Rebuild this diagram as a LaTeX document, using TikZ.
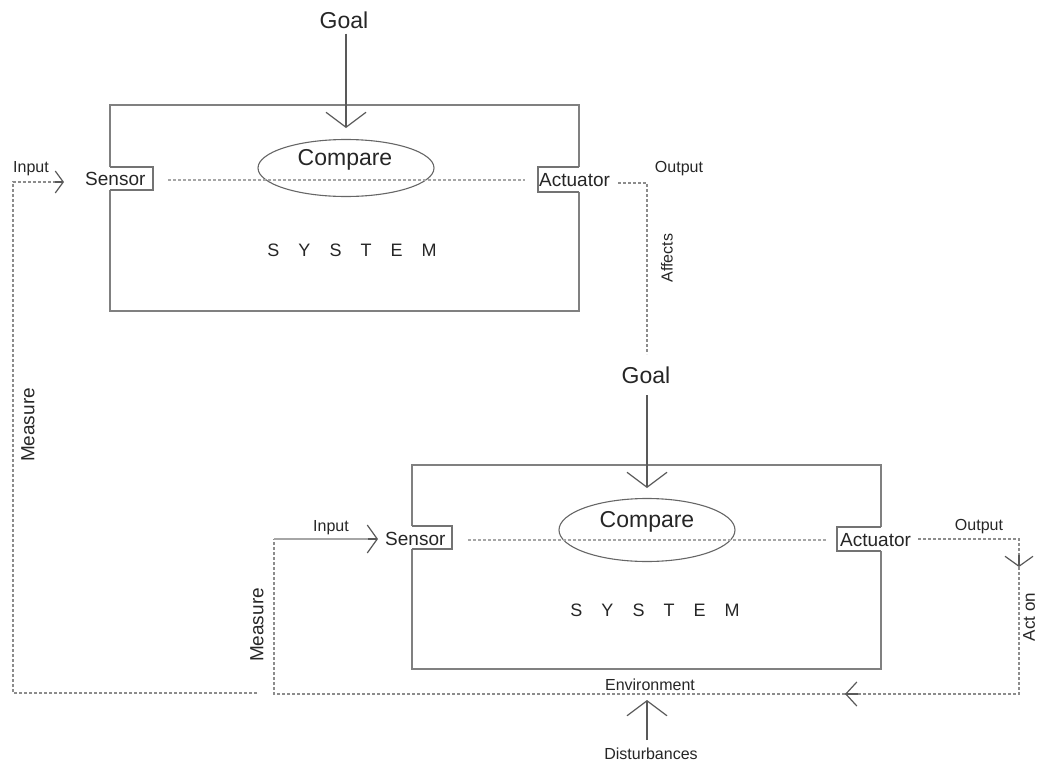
\documentclass[tikz,border=0pt]{standalone}
\usepackage{fontspec}
\setmainfont{Liberation Sans}
\usetikzlibrary{arrows.meta,shapes.geometric}
\newcommand{\fsz}[1]{\fontsize{#1}{#1}\selectfont}
\begin{document}
\begin{tikzpicture}[x=1pt,y=-1pt,
  boxline/.style={draw=black!50, line width=1.6pt},
  thinbox/.style={draw=black!55, line width=1.2pt},
  dashline/.style={draw=black!45, line width=1.3pt, dash pattern=on 3pt off 2pt},
  solidgrey/.style={draw=black!35, line width=1.3pt},
  bigbarb/.style={-{Straight Barb[length=15pt,width=40pt,line width=1.2pt]}},
  smallbarb/.style={-{Straight Barb[length=10pt,width=28pt,line width=1.2pt]}},
  tinybarb/.style={-{Straight Barb[length=8pt,width=22pt,line width=1.2pt]}},
  arrowline/.style={draw=black!65, line width=1.2pt},
  txt/.style={inner sep=0pt, text=black!85},
  bigtxt/.style={txt, font=\fsz{23}},
  midtxt/.style={txt, font=\fsz{19}},
  smalltxt/.style={txt, font=\fsz{16}},
  systxt/.style={txt, font=\fsz{18}},
  cmpell/.style={ellipse, draw=black!60, line width=1.1pt, inner sep=0pt}
]
\useasboundingbox (0,0) rectangle (1037,766);

% ================= TOP SYSTEM =================
\draw[boxline] (110,190) -- (110,311) -- (579,311) -- (579,192);
\draw[boxline] (579,167) -- (579,105) -- (110,105) -- (110,167);
\draw[thinbox] (110,167) -- (153,167) -- (153,190) -- (110,190);
\draw[thinbox] (579,167) -- (538,167) -- (538,192) -- (579,192);

\node[cmpell, minimum width=176pt, minimum height=57pt] (cmp1) at (346,168) {};
\node[bigtxt] (cmp1t) at (345,160) {Compare};
\node[midtxt, anchor=west] (sen1) at (85,179) {Sensor};
\node[midtxt, anchor=west] (act1) at (539,180) {Actuator};
\node[systxt] (sys1) at (352,250) {S\hspace{19pt}Y\hspace{19pt}S\hspace{19pt}T\hspace{19pt}E\hspace{19pt}M};

\node[bigtxt] (goal1) at (344,20) {Goal};
\coordinate (g1tip) at (346,128);
\draw[arrowline, bigbarb] (goal1.south -| g1tip) ++(0,5) -- (g1tip);

\coordinate (d1a) at (168,180);
\coordinate (d1b) at (525,180);
\draw[dashline, draw=black!35] (d1a) -- (d1b);

% Input / Output top
\node[smalltxt] (in1) at (31,169) {Input};
\node[smalltxt] (out1) at (679,169) {Output};
\node[smalltxt, rotate=90] (aff) at (667,258) {Affects};
\node[midtxt, rotate=90] (meas1) at (28,425) {Measure};

\coordinate (in1tip) at (64,182);
\coordinate (m1tl) at (13,182);
\coordinate (m1bl) at (13,693);
\coordinate (m1br) at (257,693);
\draw[dashline] (m1br) -- (m1bl) -- (m1tl) -- (56,182);
\draw[arrowline, tinybarb] (55,182) -- (in1tip);

\coordinate (o1a) at (618,183);
\coordinate (o1c) at (647,183);
\coordinate (o1b) at (647,354);
\draw[dashline] (o1a) -- (o1c) -- (o1b);

% ================= BOTTOM SYSTEM =================
\draw[boxline] (412,549) -- (412,669) -- (881,669) -- (881,551);
\draw[boxline] (881,527) -- (881,465) -- (412,465) -- (412,526);
\draw[thinbox] (412,526) -- (452,526) -- (452,549) -- (412,549);
\draw[thinbox] (881,527) -- (837,527) -- (837,551) -- (881,551);

\node[cmpell, minimum width=176pt, minimum height=63pt] (cmp2) at (647,530) {};
\node[bigtxt] (cmp2t) at (647,522) {Compare};
\node[midtxt, anchor=west] (sen2) at (385,539) {Sensor};
\node[midtxt, anchor=west] (act2) at (840,540) {Actuator};
\node[systxt] (sys2) at (655,610) {S\hspace{19pt}Y\hspace{19pt}S\hspace{19pt}T\hspace{19pt}E\hspace{19pt}M};

\node[bigtxt] (goal2) at (646,375) {Goal};
\coordinate (g2tip) at (647,488);
\draw[arrowline, bigbarb] (647,395) -- (g2tip);

\coordinate (d2a) at (468,540);
\coordinate (d2b) at (826,540);
\draw[dashline, draw=black!35] (d2a) -- (d2b);

\node[smalltxt] (in2) at (331,528) {Input};
\node[smalltxt] (out2) at (979,527) {Output};
\node[txt, font=\fsz{17}, rotate=90] (acton) at (1029,617) {Act on};
\node[midtxt, rotate=90] (meas2) at (257,625) {Measure};
\node[smalltxt] (env) at (650,685) {Environment};
\node[smalltxt] (dist) at (651,754) {Disturbances};

% output -> act on -> environment loop
\coordinate (o2a) at (918,539);
\coordinate (o2c) at (1019,539);
\coordinate (o2tip) at (1019,567);
\coordinate (ebr) at (1019,694);
\coordinate (etip) at (845,694);
\coordinate (ebl) at (274,694);
\coordinate (i2c) at (274,539);
\coordinate (in2tip) at (378,539);
\draw[dashline] (o2a) -- (o2c) -- (o2tip);
\draw[arrowline, smallbarb] (1019,555) -- (o2tip);
\draw[dashline] (o2tip) -- (ebr) -- (etip);
\draw[arrowline, -{Straight Barb[length=11pt,width=24pt,line width=1.2pt]}] (858,694) -- (etip);
\draw[dashline] (etip) -- (ebl) -- (i2c);
\draw[solidgrey] (i2c) -- (370,539);
\draw[arrowline, smallbarb] (368,539) -- (in2tip);

% disturbances
\coordinate (disttip) at (647,700);
\draw[arrowline, bigbarb] (647,740) -- (disttip);

\end{tikzpicture}
\end{document}
